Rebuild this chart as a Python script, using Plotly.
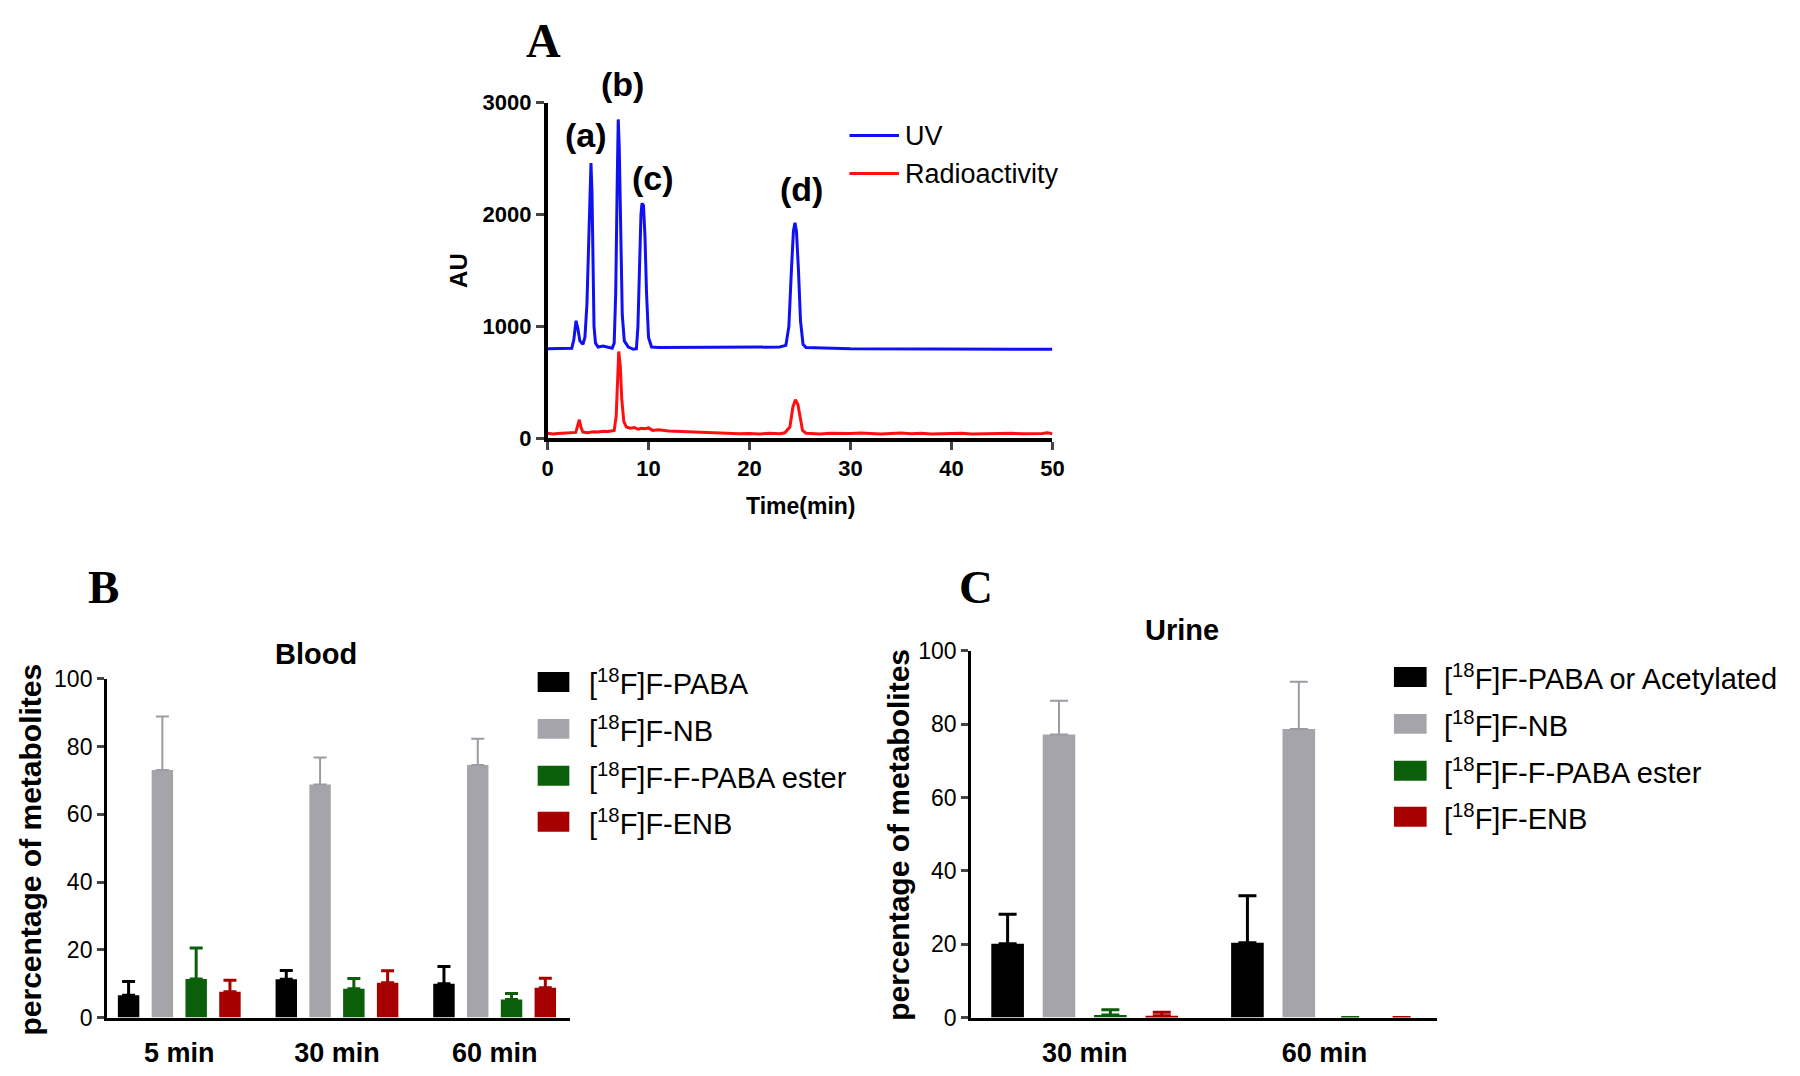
import plotly.graph_objects as go

# ---------------- Panel A data (chromatogram) ----------------
uv_time = [0, 2.0, 2.4, 2.6, 2.82, 3.0, 3.2, 3.5, 3.7, 3.9, 4.05, 4.2, 4.3, 4.4, 4.5, 4.6, 4.75,
           5.0, 5.5, 6.0, 6.4, 6.6, 6.75, 6.9, 7.0, 7.1, 7.25, 7.4, 7.6, 8.0, 8.5, 8.8, 8.95,
           9.1, 9.25, 9.35, 9.5, 9.65, 9.8, 10.0, 10.3, 11, 15, 20, 23.0, 23.6, 23.9, 24.15,
           24.35, 24.5, 24.65, 24.85, 25.05, 25.3, 25.6, 30, 35, 40, 45, 50]
uv_au = [800, 800, 805, 880, 1050, 980, 870, 840, 900, 1200, 1700, 2250, 2460, 2200, 1500, 1000, 850,
         815, 825, 810, 805, 850, 1300, 2300, 2850, 2600, 1800, 1100, 870, 815, 795, 800, 1000,
         1600, 2000, 2100, 2080, 1800, 1300, 900, 815, 810, 810, 812, 815, 830, 1000, 1500,
         1850, 1925, 1850, 1500, 1050, 840, 810, 800, 800, 798, 797, 795]

rad_time = [0, 0.5, 1, 1.5, 2, 2.5, 2.8, 3.0, 3.15, 3.3, 3.5, 4, 4.5, 5, 5.5, 6, 6.6, 6.8, 6.95, 7.05,
            7.2, 7.35, 7.55, 7.8, 8.2, 8.6, 9.0, 9.3, 9.6, 10, 10.4, 11, 12, 13, 14, 15, 16, 17,
            18, 19, 20, 21, 22, 23, 23.5, 24.0, 24.3, 24.55, 24.8, 25.0, 25.25, 25.6, 26, 27, 28,
            29, 30, 31, 32, 33, 34, 35, 36, 37, 38, 39, 40, 41, 42, 43, 44, 45, 46, 47, 48, 49, 49.5, 50]
rad_au = [45, 38, 42, 46, 44, 50, 52, 120, 165, 100, 55, 50, 58, 55, 62, 60, 70, 200, 600, 775,
          650, 350, 150, 100, 90, 95, 80, 88, 85, 92, 70, 75, 65, 62, 58, 52, 48, 44,
          45, 40, 42, 38, 44, 40, 48, 100, 280, 345, 300, 180, 70, 45, 42, 38, 44,
          40, 42, 46, 39, 38, 43, 47, 40, 44, 38, 42, 41, 45, 38, 40, 43, 40, 44, 39, 38, 42, 48, 40]

peak_labels = ["(a)", "(b)", "(c)", "(d)"]
peak_label_time = [3.8, 7.4, 10.4, 25.1]

# ---------------- Panel B data (Blood) ----------------
blood_cats = ["5 min", "30 min", "60 min"]
blood_paba = [6.6, 11.3, 10.0]
blood_paba_err = [4.0, 2.6, 5.1]
blood_nb = [73.1, 68.8, 74.6]
blood_nb_err = [15.8, 8.0, 7.7]
blood_ester = [11.4, 8.5, 5.3]
blood_ester_err = [9.1, 3.0, 1.8]
blood_enb = [7.6, 10.3, 8.8]
blood_enb_err = [3.4, 3.5, 2.8]

# ---------------- Panel C data (Urine) ----------------
urine_cats = ["30 min", "60 min"]
urine_paba = [20.1, 20.4]
urine_paba_err = [8.1, 12.8]
urine_nb = [77.2, 78.7]
urine_nb_err = [9.2, 12.9]
urine_ester = [0.7, 0.0]
urine_ester_err = [1.4, 0.0]
urine_enb = [0.45, 0.0]
urine_enb_err = [1.0, 0.0]

blood_names = ["[<sup>18</sup>F]F-PABA", "[<sup>18</sup>F]F-NB",
               "[<sup>18</sup>F]F-F-PABA ester", "[<sup>18</sup>F]F-ENB"]
urine_names = ["[<sup>18</sup>F]F-PABA or Acetylated", "[<sup>18</sup>F]F-NB",
               "[<sup>18</sup>F]F-F-PABA ester", "[<sup>18</sup>F]F-ENB"]
bar_colors = ["#000000", "#a6a4ab", "#0b5f0b", "#a60000"]
err_colors = ["#000000", "#9c9aa2", "#0b5f0b", "#a60000"]

# The page body has an 8px default margin, so the figure is placed at (8, 8)
OFF = 8
W, H = 1800 - 2 * OFF, 1076 - 2 * OFF
SANS = "Liberation Sans, Arial, Helvetica, sans-serif"
SERIF = "Liberation Serif, Times New Roman, serif"
VA, VK = 13.5, 0.971   # vertical layout calibration


def px(x):
    return (x - OFF) / W


def page_y(y):
    return (y - VA) / VK


def py(y):
    return 1 - (page_y(y) - OFF) / H


fig = go.Figure()

# Panel A traces
fig.add_trace(go.Scatter(x=uv_time, y=uv_au, mode="lines", name="UV",
                         line=dict(color="#1010f4", width=3), xaxis="x", yaxis="y",
                         showlegend=False))
fig.add_trace(go.Scatter(x=rad_time, y=rad_au, mode="lines", name="Radioactivity",
                         line=dict(color="#ff1010", width=3), xaxis="x", yaxis="y",
                         showlegend=False))

# Panel B bars
b_vals = [blood_paba, blood_nb, blood_ester, blood_enb]
b_errs = [blood_paba_err, blood_nb_err, blood_ester_err, blood_enb_err]
for i in range(4):
    fig.add_trace(go.Bar(x=blood_cats, y=b_vals[i], name=blood_names[i],
                         marker=dict(color=bar_colors[i], line=dict(width=0)),
                         error_y=dict(type="data", symmetric=False, array=b_errs[i],
                                      arrayminus=[0] * len(b_errs[i]),
                                      color=err_colors[i], thickness=3 if i != 1 else 2,
                                      width=6.5),
                         xaxis="x2", yaxis="y2", showlegend=False))

# Panel C bars
c_vals = [urine_paba, urine_nb, urine_ester, urine_enb]
c_errs = [urine_paba_err, urine_nb_err, urine_ester_err, urine_enb_err]
for i in range(4):
    fig.add_trace(go.Bar(x=urine_cats, y=c_vals[i], name=urine_names[i],
                         marker=dict(color=bar_colors[i], line=dict(width=0)),
                         error_y=dict(type="data", symmetric=False, array=c_errs[i],
                                      arrayminus=[0] * len(c_errs[i]),
                                      color=err_colors[i], thickness=3 if i != 1 else 2,
                                      width=9),
                         xaxis="x3", yaxis="y3", showlegend=False))

axis_common = dict(showgrid=False, zeroline=False, showline=True, linecolor="black",
                   mirror=False)

layout = dict(
    width=W, height=H,
    margin=dict(l=0, r=0, t=0, b=0),
    paper_bgcolor="white", plot_bgcolor="white",
    barmode="group", bargap=0.143, bargroupgap=0.365,
    font=dict(family=SANS, color="black"),
    xaxis=dict(domain=[px(547), px(1057)], range=[0, 50], anchor="y",
               tickvals=[0, 10, 20, 30, 40, 50], ticks="outside", ticklen=8, tickwidth=3,
               linewidth=3.5, tickfont=dict(size=22, family=SANS, weight="bold"),
               **axis_common),
    yaxis=dict(domain=[py(439), py(103)], range=[0, 3000], anchor="x",
               tickvals=[0, 1000, 2000, 3000], ticks="outside", ticklen=8, tickwidth=3,
               linewidth=3.5, tickfont=dict(size=22, family=SANS, weight="bold"),
               **axis_common),
    xaxis2=dict(domain=[px(102), px(570)], range=[-0.458, 2.48], anchor="y2",
                type="category", ticks="", linewidth=3, ticklabelstandoff=9,
                tickfont=dict(size=27, family=SANS, weight="bold"), **axis_common),
    yaxis2=dict(domain=[py(1019), py(680)], range=[0, 100], anchor="x2",
                tickvals=[0, 20, 40, 60, 80, 100], ticks="outside", ticklen=7, tickwidth=2.5,
                linewidth=3, tickfont=dict(size=23, family=SANS), **axis_common),
    xaxis3=dict(domain=[px(975), px(1445)], range=[-0.473, 1.467], anchor="y3",
                type="category", ticks="", linewidth=3, ticklabelstandoff=9,
                tickfont=dict(size=27, family=SANS, weight="bold"), **axis_common),
    yaxis3=dict(domain=[py(1019), py(652)], range=[0, 100], anchor="x3",
                tickvals=[0, 20, 40, 60, 80, 100], ticks="outside", ticklen=7, tickwidth=2.5,
                linewidth=3, tickfont=dict(size=23, family=SANS), **axis_common),
)

annotations = []
shapes = []


def text(x, y, s, size, bold=False, family=SANS, angle=0, xanchor="center", yanchor="middle",
         raw_page_y=None):
    yv = py(y) if raw_page_y is None else 1 - (raw_page_y - OFF) / H
    annotations.append(dict(x=px(x), y=yv, xref="paper", yref="paper", text=s,
                            showarrow=False, textangle=angle, xanchor=xanchor, yanchor=yanchor,
                            font=dict(size=size, family=family, color="black",
                                      weight="bold" if bold else "normal")))


# Panel labels ("A" kept fully inside the page)
text(543, 30, "A", 48, bold=True, family=SERIF, raw_page_y=28)
text(98, 588, "B", 47, bold=True, family=SERIF)
text(980, 588, "C", 47, bold=True, family=SERIF)

# Panel A texts
text(457, 271, "AU", 24, bold=True, angle=-90)
text(803, 507, "Time(min)", 23, bold=True)
peak_y_px = [135, 84, 178, 189]
for lab, t, yy in zip(peak_labels, peak_label_time, peak_y_px):
    annotations.append(dict(x=t, y=py(yy), xref="x", yref="paper", text=lab, showarrow=False,
                            xanchor="center", yanchor="middle",
                            font=dict(size=34, family=SANS, color="black", weight="bold")))

# Panel A legend
a_leg_names = ["UV", "Radioactivity"]
a_leg_colors = ["#1010f4", "#ff1010"]
for i, (nm, col) in enumerate(zip(a_leg_names, a_leg_colors)):
    yy = 136 + i * 38
    shapes.append(dict(type="line", xref="paper", yref="paper", x0=px(852), x1=px(902),
                       y0=py(yy), y1=py(yy), line=dict(color=col, width=3)))
    text(906, yy, nm, 27, xanchor="left")

# Panel B titles and legend
text(313, 655, "Blood", 29, bold=True)
text(25, 851, "percentage of metabolites", 30, bold=True, angle=-90)
b_rows = [683, 730, 777, 823]
for i in range(4):
    yy = b_rows[i]
    shapes.append(dict(type="rect", xref="paper", yref="paper", x0=px(537), x1=px(569),
                       y0=py(yy - 10), y1=py(yy + 10), fillcolor=bar_colors[i],
                       line=dict(width=0)))
    text(587, yy, blood_names[i], 29, xanchor="left")

# Panel C titles and legend
text(1188, 631, "Urine", 29, bold=True)
text(902, 836, "percentage of metabolites", 30, bold=True, angle=-90)
c_rows = [678, 725, 772, 818]
for i in range(4):
    yy = c_rows[i]
    shapes.append(dict(type="rect", xref="paper", yref="paper", x0=px(1402), x1=px(1435),
                       y0=py(yy - 10), y1=py(yy + 10), fillcolor=bar_colors[i],
                       line=dict(width=0)))
    text(1451, yy, urine_names[i], 29, xanchor="left")

layout["annotations"] = annotations
layout["shapes"] = shapes
fig.update_layout(**layout)

fig.write_html("out.html")
